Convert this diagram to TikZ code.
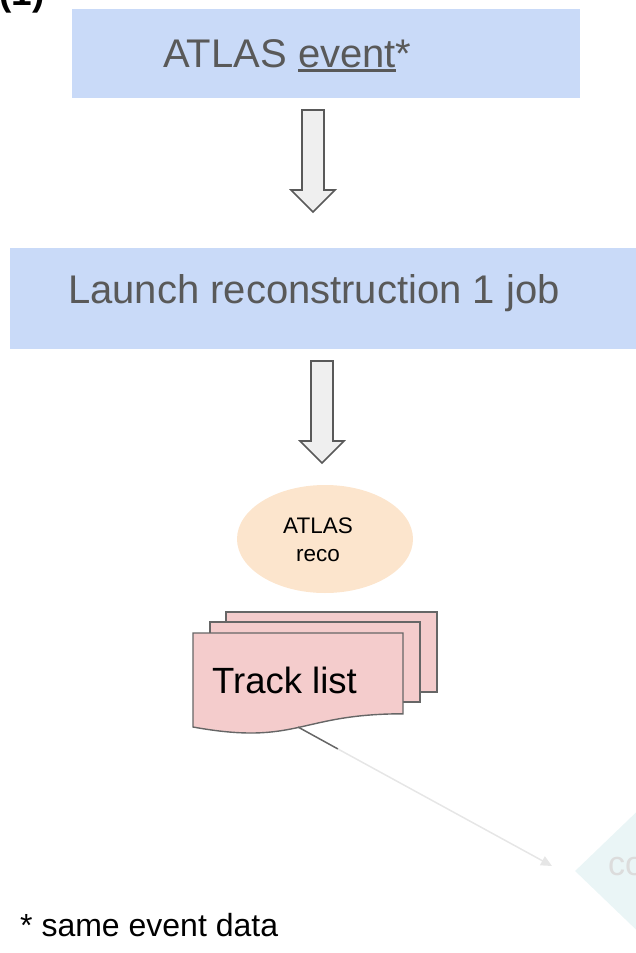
\documentclass[tikz,border=0pt]{standalone}
\usepackage{fontspec}
\setmainfont{Liberation Sans}
\usetikzlibrary{shapes.geometric,arrows.meta}
\definecolor{boxblue}{HTML}{C9DAF8}
\definecolor{txtgray}{HTML}{595959}
\definecolor{arrfill}{HTML}{EFEFEF}
\definecolor{orng}{HTML}{FCE5CD}
\definecolor{pinkdoc}{HTML}{F4CCCC}
\definecolor{docline}{HTML}{666666}
\definecolor{faint}{HTML}{E6E6E6}
\definecolor{dia}{HTML}{EAF5F6}
\definecolor{cotxt}{HTML}{DCDCDC}
\newcommand\myul[1]{\setbox0\hbox{#1}\rlap{\color{txtgray}\rule[-5pt]{\wd0}{3pt}}\box0}
\begin{document}
\begin{tikzpicture}[x=1pt,y=-1pt,
  bluebox/.style={fill=boxblue, inner sep=0pt},
  blockarrow/.style={draw=txtgray, fill=arrfill, line width=1.6pt, line join=miter},
  docpage/.style={draw=docline, fill=pinkdoc, line width=1.4pt, line join=miter},
  plain/.style={anchor=base west, inner sep=0pt}]
\useasboundingbox (0,0) rectangle (636,953);
\clip (0,0) rectangle (636,953);

% label (1), clipped at top
\node[plain, font=\bfseries\fontsize{37}{44}\selectfont] (num) at (-1,5.5) {(1)};

% top box
\node[bluebox, minimum width=508pt, minimum height=89pt] (event) at (326,53.5) {};
\node[plain, text=txtgray, font=\fontsize{40}{48}\selectfont] (eventtxt) at (163,67) {ATLAS \myul{event}*};

% arrow 1
\draw[blockarrow] (302,110) -- (324,110) -- (324,190) -- (335,190) -- (313,212) -- (291,190) -- (302,190) -- cycle;

% launch box
\node[bluebox, minimum width=632pt, minimum height=101pt] (launch) at (326,298.5) {};
\node[plain, text=txtgray, font=\fontsize{40}{48}\selectfont] (launchtxt) at (68,303) {Launch reconstruction 1 job};

% arrow 2
\draw[blockarrow] (311,361) -- (333,361) -- (333,441) -- (344,441) -- (322,463) -- (300,441) -- (311,441) -- cycle;

% ellipse
\node[ellipse, fill=orng, minimum width=176pt, minimum height=108pt, inner sep=0pt] (reco) at (325,539) {};
\node[align=center, inner sep=0pt, font=\fontsize{22.5}{28}\selectfont] (recotxt) at (318,540) {ATLAS\\reco};

% multi-document
\draw[docpage] (226,612) rectangle (437,692);
\draw[docpage] (210,622) rectangle (420,702);
\draw[docpage] (193,633) -- (403,633) -- (403,713.8) .. controls (298,713.8) and (298,746) .. (193,727) -- cycle;
\node[plain, font=\fontsize{36.5}{43}\selectfont] (tracks) at (212,693) {Track list};

% faded diamond
\node[diamond, fill=dia, minimum width=260pt, minimum height=250pt, inner sep=0pt] (cmp) at (705,871) {};
\node[plain, text=cotxt, font=\fontsize{34}{40}\selectfont] (cmptxt) at (608,875) {co};

% connector
\coordinate (docbot) at (298,727);
\coordinate (fadept) at (338,749);
\coordinate (tip) at (552,866);
\draw[docline, line width=1.5pt] (docbot) -- (fadept);
\draw[faint, line width=1.5pt, -{Triangle[length=11pt,width=10pt]}] (fadept) -- (tip);

% footnote
\node[plain, font=\fontsize{32}{38}\selectfont] (note) at (20,936) {* same event data};
\end{tikzpicture}
\end{document}
